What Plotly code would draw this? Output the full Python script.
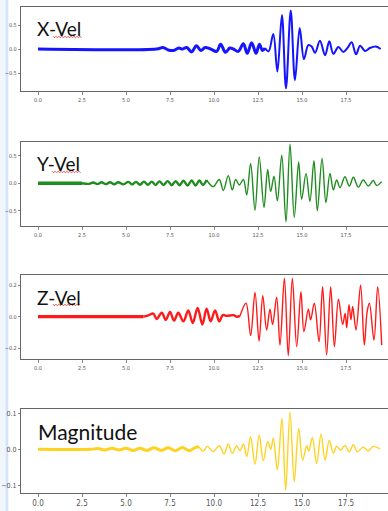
import plotly.graph_objects as go
import numpy as np

W, H = 388, 511
ML = 21
PW = W - ML

# ---------------- data ----------------
x_t = [0, 6.74, 7.1, 7.4, 7.7, 8.0, 8.2, 8.45, 8.73, 9.0, 9.25, 9.5, 9.8, 10.15, 10.38, 10.65,
       10.9, 11.1, 11.38, 11.67, 11.89, 12.14, 12.39, 12.58, 12.75, 12.9, 13.1, 13.37, 13.60,
       13.86, 14.09, 14.36, 14.60, 14.87, 15.11, 15.36, 15.55, 15.74, 16.02, 16.31, 16.55,
       16.78, 17.07, 17.35, 17.6, 17.82, 18.07, 18.30, 18.58, 18.86, 19.2, 19.47]
x_v = [0, 0, 0.03, -0.02, -0.03, 0.02, 0.0, 0.03, -0.06, 0.07, -0.03, 0.03, 0.0, -0.05, 0.10, -0.07,
       0.02, 0.0, -0.05, 0.11, -0.09, 0.13, -0.09, 0.10, -0.03, 0.02, -0.05, 0.31, -0.47,
       0.71, -0.82, 0.80, -0.65, 0.44, -0.21, 0.08, 0.05, -0.08, 0.17, -0.13, 0.16,
       -0.10, 0.04, -0.06, 0.03, 0.14, -0.11, 0.07, -0.04, 0.02, 0.05, 0.0]

y_t = [0, 2.5, 2.9, 3.14, 3.38, 3.61, 3.85, 4.09, 4.33, 4.56, 4.85, 5.13, 5.35, 5.57, 5.8, 6.02,
       6.24, 6.46, 6.68, 6.9, 7.13, 7.37, 7.6, 7.82, 8.04, 8.26, 8.5, 8.73, 8.95, 9.17, 9.37,
       9.58, 9.96, 10.30, 10.53, 10.81, 11.04, 11.23, 11.44, 11.67, 11.86, 12.08, 12.33, 12.57,
       12.84, 13.05, 13.22, 13.41, 13.60, 13.85, 14.09, 14.32, 14.56, 14.81, 14.98, 15.23,
       15.45, 15.68, 15.87, 16.14, 16.36, 16.59, 16.78, 16.97, 17.16, 17.44, 17.69, 17.92,
       18.2, 18.48, 18.77, 19.05, 19.24, 19.53]
y_v = [0, 0, -0.01, 0.015, -0.015, 0.018, -0.015, 0.02, -0.018, 0.02, -0.02, 0.025, -0.02, 0.025, -0.025, 0.03,
       -0.025, 0.03, -0.03, 0.035, -0.03, 0.04, -0.035, 0.04, -0.035, 0.045, -0.04, 0.05, -0.04, 0.05, -0.03,
       0.06, -0.06, 0.07, -0.13, 0.14, -0.12, 0.07, -0.03, 0.07, -0.21, 0.36, -0.49, 0.48,
       -0.44, 0.25, -0.15, 0.13, -0.32, 0.51, -0.70, 0.71, -0.62, 0.39, -0.29, 0.18,
       -0.33, 0.41, -0.50, 0.45, -0.35, 0.18, -0.12, 0.06, -0.08, 0.12, -0.05, 0.11,
       -0.07, 0.06, -0.05, 0.05, -0.04, 0.03]

z_t = [0, 6.0, 6.3, 6.55, 6.74, 7.03, 7.26, 7.5, 7.73, 7.97, 8.26, 8.54, 8.79, 9.07, 9.34, 9.58,
       9.81, 10.06, 10.3, 10.5, 10.72, 11.1, 11.3, 11.48, 11.82, 12.08, 12.33, 12.56, 12.77,
       12.99, 13.18, 13.33, 13.56, 13.75, 14.0, 14.22, 14.45, 14.70, 14.94, 15.11, 15.36,
       15.49, 15.70, 15.97, 16.17, 16.40, 16.63, 16.84, 17.07, 17.31, 17.45, 17.54, 17.67,
       17.78, 17.88, 18.07, 18.33, 18.54, 18.70, 18.83, 19.09, 19.30, 19.53]
z_v = [0, 0, 0.01, 0.02, -0.015, 0.025, -0.02, 0.03, -0.025, 0.025, -0.03, 0.04, -0.04, 0.055, -0.05, 0.05,
       -0.03, 0.04, -0.03, 0.01, 0.005, 0.01, 0.0, 0.005, 0.085, -0.12, 0.154, -0.154, 0.133,
       -0.084, 0.047, -0.05, 0.123, -0.18, 0.243, -0.247, 0.243, -0.19, 0.158, -0.095, 0.047,
       -0.02, 0.085, -0.158, 0.19, -0.242, 0.19, -0.19, 0.11, -0.05, 0.02, -0.07, 0.076,
       -0.02, 0.065, -0.084, 0.2, -0.18, 0.03, 0.085, -0.148, 0.19, -0.18]

m_t = [0, 3.0, 3.4, 3.8, 4.2, 4.6, 5.0, 5.4, 5.8, 6.2, 6.6, 7.0, 7.4, 7.8, 8.2, 8.6, 8.9,
       9.15, 9.39, 9.62, 9.96, 10.30, 10.57, 10.81, 11.04, 11.29, 11.48, 11.67, 11.86, 12.08,
       12.33, 12.57, 12.80, 13.05, 13.22, 13.37, 13.60, 13.86, 14.07, 14.32, 14.56, 14.81,
       15.04, 15.27, 15.38, 15.59, 15.83, 16.08, 16.31, 16.55, 16.78, 16.97, 17.2, 17.44,
       17.69, 17.92, 18.14, 18.48, 18.77, 19.05, 19.43]
m_v = [0, 0, 0.002, -0.002, 0.003, -0.002, 0.003, -0.003, 0.003, -0.003, 0.004, -0.003, 0.004, -0.004, 0.005, -0.004, 0.004,
       0.007, -0.005, 0.008, -0.006, 0.01, -0.013, 0.015, -0.011, 0.009, -0.004, 0.015, -0.02, 0.035,
       -0.041, 0.04, -0.032, 0.021, 0.0, 0.031, -0.057, 0.086, -0.113, 0.104, -0.09, 0.058,
       -0.03, 0.01, -0.005, 0.032, -0.04, 0.042, -0.03, 0.025, -0.011, 0.008, -0.002, 0.011,
       -0.007, 0.013, -0.007, 0.006, -0.004, 0.008, 0.001]

x_ticks = [0, 2.5, 5.0, 7.5, 10.0, 12.5, 15.0, 17.5, 20.0]
titles = ["X-Vel", "Y-Vel", "Z-Vel", "Magnitude"]

# ---------------- layout helpers ----------------
def px_x(p):
    return (p - ML) / PW

def px_y(p):
    return 1 - p / H

panels = [
    dict(t=x_t, v=x_v, color="#1414ff", top=7, bot=91, yr=[-0.875, 0.875], yt=[-0.5, 0, 0.5],
         segs=[(0, 12.9, 3.0), (12.9, 99, 2.0)], tf=5.5, ytf=5.5),
    dict(t=y_t, v=y_v, color="#1f8c1f", top=141.7, bot=226, yr=[-0.776, 0.756], yt=[-0.5, 0, 0.5],
         segs=[(0, 2.5, 3.5), (2.5, 9.58, 2.4), (9.58, 99, 1.4)], tf=5.5, ytf=5.5),
    dict(t=z_t, v=z_v, color="#ff1a1a", top=275, bot=359, yr=[-0.268, 0.264], yt=[-0.2, 0, 0.2],
         segs=[(0, 6.0, 3.2), (6.0, 11.48, 2.4), (11.48, 99, 1.4)], tf=5.5, ytf=5.5),
    dict(t=m_t, v=m_v, color="#ffd21f", top=409, bot=492.7, yr=[-0.1206, 0.112], yt=[-0.1, 0, 0.1],
         segs=[(0, 9.15, 3.0), (9.15, 99, 1.4)], tf=8, ytf=7),
]

fig = go.Figure()
layout = dict(width=W, height=H, margin=dict(l=ML, r=0, t=0, b=0),
              paper_bgcolor="white", plot_bgcolor="white", showlegend=False)

tickfont_family = "DejaVu Sans Condensed, Liberation Sans Narrow, sans-serif"
xr = [(21 - 38) / 17.6, (388 - 38) / 17.6]

for i, p in enumerate(panels):
    n = i + 1
    xa = "x" if n == 1 else f"x{n}"
    ya = "y" if n == 1 else f"y{n}"
    t = np.array(p["t"])
    v = np.array(p["v"])
    for (a, b, w) in p["segs"]:
        idx = np.where((t >= a) & (t <= b))[0]
        i0 = max(idx[0] - 1, 0) if t[idx[0]] > a else idx[0]
        sel = np.arange(i0, idx[-1] + 1)
        fig.add_trace(go.Scatter(x=t[sel], y=v[sel], mode="lines", xaxis=xa, yaxis=ya,
                                 line=dict(color=p["color"], width=w, shape="spline", smoothing=1.0),
                                 hoverinfo="skip"))
    key = "" if n == 1 else str(n)
    layout["xaxis" + key] = dict(domain=[0, 1], anchor=ya, range=xr, tickvals=x_ticks,
                                 tickformat=".1f", showgrid=False, zeroline=False,
                                 showline=True, mirror=True, linecolor="#666", linewidth=1.3,
                                 ticks="outside", ticklen=3, tickcolor="#888", tickwidth=0.8,
                                 tickfont=dict(family=tickfont_family, size=p["tf"], color="#555"))
    layout["yaxis" + key] = dict(domain=[px_y(p["bot"]), px_y(p["top"])], anchor=xa, range=p["yr"],
                                 tickvals=p["yt"], tickformat=".1f", showgrid=False, zeroline=False,
                                 showline=True, mirror=False, linecolor="#666", linewidth=1.3,
                                 ticks="outside", ticklen=2, tickcolor="#888", tickwidth=0.8,
                                 tickfont=dict(family=tickfont_family, size=p["ytf"], color="#555"))

fig.update_layout(**layout)

# titles
title_pos = [(35, 28, 19), (35, 163, 19), (35, 297, 19), (36, 431, 21)]
for txt, (lx, cy, fs) in zip(titles, title_pos):
    fig.add_annotation(text=txt, xref="paper", yref="paper", x=px_x(lx), y=px_y(cy),
                       xanchor="left", yanchor="middle", showarrow=False,
                       font=dict(family="Lato, Open Sans, sans-serif", size=fs, color="#111"))

# red spell-check squiggles under "Vel"
for (x0, x1, yy) in [(53, 82, 37), (52, 81, 172), (53, 81, 305)]:
    xs = np.arange(x0, x1 + 0.1, 1.5)
    pts = [(px_x(xx), px_y(yy + (0.8 if k % 2 else -0.8))) for k, xx in enumerate(xs)]
    path = "M " + " L ".join(f"{a:.5f},{b:.5f}" for a, b in pts)
    fig.add_shape(type="path", path=path, xref="paper", yref="paper",
                  line=dict(color="#e03030", width=0.8))

# left light-blue strip
fig.add_shape(type="rect", xref="paper", yref="paper", x0=px_x(0), x1=px_x(5.5), y0=0, y1=1,
              fillcolor="#f1f6fd", line=dict(width=0), layer="below")
fig.add_shape(type="rect", xref="paper", yref="paper", x0=px_x(5.5), x1=px_x(8.3), y0=0, y1=1,
              fillcolor="#d4e5fa", line=dict(width=0), layer="below")

fig.write_html("out.html", config={"displayModeBar": False})
